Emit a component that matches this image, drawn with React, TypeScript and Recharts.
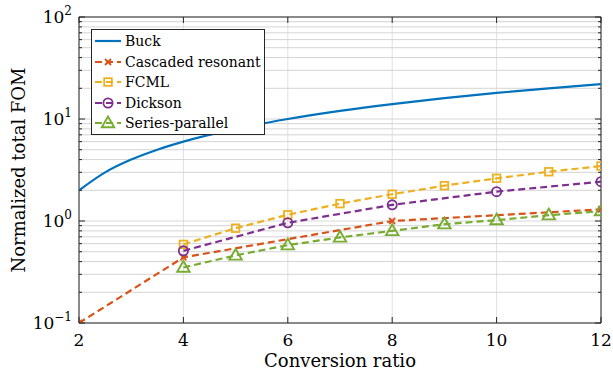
import { LineChart, Line, XAxis, YAxis, CartesianGrid, ReferenceArea, Label } from 'recharts';

const W = 613;
const H = 373;
const MARGIN = { top: 17, right: 12, left: 0, bottom: 0 };
const Y_AXIS_W = 79;
const X_AXIS_H = 50;
const PLOT_RIGHT = W - MARGIN.right;
const PLOT_TOP = MARGIN.top;
const FONT = 'DejaVu Serif';
const INK = '#262626';

// series values
const buckX = [2, 2.5, 3, 3.5, 4, 5, 6, 7, 8, 9, 10, 11, 12];
const buckY = [2, 3, 4, 5, 6, 8, 10, 12, 14, 16, 18, 20, 22];
const cascadedX = [2, 4, 8, 12];
const cascadedY = [0.1, 0.44, 1.0, 1.3];
const fcmlX = [4, 5, 6, 7, 8, 9, 10, 11, 12];
const fcmlY = [0.59, 0.85, 1.15, 1.48, 1.83, 2.22, 2.62, 3.04, 3.46];
const dicksonX = [4, 6, 8, 10, 12];
const dicksonY = [0.51, 0.96, 1.44, 1.94, 2.43];
const spX = [4, 5, 6, 7, 8, 9, 10, 11, 12];
const spY = [0.35, 0.46, 0.58, 0.69, 0.8, 0.93, 1.02, 1.14, 1.25];

const xTicks = [2, 4, 6, 8, 10, 12];
const decades = [0.1, 1, 10, 100];
const decadeLabels = ['\u22121', '0', '1', '2'];
const minorTicks = [0.2, 0.3, 0.4, 0.5, 0.6, 0.7, 0.8, 0.9, 2, 3, 4, 5, 6, 7, 8, 9, 20, 30, 40, 50, 60, 70, 80, 90];
const yTicks = [...decades, ...minorTicks].sort((a, b) => a - b);

const zip = (xs: number[], ys: number[]) => xs.map((x, i) => ({ x, y: ys[i] }));

type MarkerKind = 'none' | 'x' | 'square' | 'circle' | 'triangle';

const SERIES: { name: string; color: string; marker: MarkerKind; dashed: boolean; data: { x: number; y: number }[] }[] = [
  { name: 'Buck', color: '#0072BD', marker: 'none', dashed: false, data: zip(buckX, buckY) },
  { name: 'Cascaded resonant', color: '#D95319', marker: 'x', dashed: true, data: zip(cascadedX, cascadedY) },
  { name: 'FCML', color: '#EDB120', marker: 'square', dashed: true, data: zip(fcmlX, fcmlY) },
  { name: 'Dickson', color: '#7E2F8E', marker: 'circle', dashed: true, data: zip(dicksonX, dicksonY) },
  { name: 'Series-parallel', color: '#77AC30', marker: 'triangle', dashed: true, data: zip(spX, spY) },
];

function Marker({ kind, cx, cy, color }: { kind: MarkerKind; cx: number; cy: number; color: string }) {
  if (kind === 'x') {
    const s = 3;
    return (
      <g stroke={color} strokeWidth={1.8}>
        <line x1={cx - s} y1={cy - s} x2={cx + s} y2={cy + s} />
        <line x1={cx - s} y1={cy + s} x2={cx + s} y2={cy - s} />
      </g>
    );
  }
  if (kind === 'square') {
    return <rect x={cx - 3.8} y={cy - 3.8} width={7.6} height={7.6} fill="none" stroke={color} strokeWidth={1.8} />;
  }
  if (kind === 'circle') {
    return <circle cx={cx} cy={cy} r={4.6} fill="none" stroke={color} strokeWidth={1.8} />;
  }
  if (kind === 'triangle') {
    return (
      <polygon
        points={`${cx},${cy - 6.5} ${cx - 6.2},${cy + 4.2} ${cx + 6.2},${cy + 4.2}`}
        fill="none"
        stroke={color}
        strokeWidth={1.9}
      />
    );
  }
  return null;
}

function YTick(props: any) {
  const { x, y, payload } = props;
  const axisX = x + 6;
  const idx = decades.indexOf(payload.value);
  const major = idx >= 0;
  const len = major ? 6 : 3;
  return (
    <g>
      <line x1={axisX} y1={y} x2={axisX + len} y2={y} stroke={INK} strokeWidth={1} />
      <line x1={PLOT_RIGHT} y1={y} x2={PLOT_RIGHT - len} y2={y} stroke={INK} strokeWidth={1} />
      {major && (
        <text x={x - 1} y={y + 6} textAnchor="end" fontFamily={FONT} fontSize={17} fill="#000">
          10
          <tspan dy={-8} fontSize={12}>
            {decadeLabels[idx]}
          </tspan>
        </text>
      )}
    </g>
  );
}

function XTick(props: any) {
  const { x, y, payload } = props;
  const axisY = y - 8;
  return (
    <g>
      <line x1={x} y1={axisY} x2={x} y2={axisY - 6} stroke={INK} strokeWidth={1} />
      <line x1={x} y1={PLOT_TOP} x2={x} y2={PLOT_TOP + 6} stroke={INK} strokeWidth={1} />
      <text x={x} y={y + 15} textAnchor="middle" fontFamily={FONT} fontSize={17} fill="#000">
        {payload.value}
      </text>
    </g>
  );
}

function ChartLegend() {
  return (
    <div
      style={{
        position: 'absolute',
        left: 91,
        top: 29,
        width: 174,
        height: 106,
        boxSizing: 'border-box',
        border: `1px solid ${INK}`,
        background: '#fff',
        paddingTop: 1,
        fontFamily: FONT,
        fontSize: 14,
      }}
    >
      {SERIES.map((s) => (
        <div key={s.name} style={{ display: 'flex', alignItems: 'center', height: 20.5 }}>
          <svg width={33} height={16} style={{ flexShrink: 0 }}>
            <line
              x1={3}
              y1={8}
              x2={29}
              y2={8}
              stroke={s.color}
              strokeWidth={2.2}
              strokeDasharray={s.dashed ? '7 4' : undefined}
            />
            <Marker kind={s.marker} cx={16} cy={8} color={s.color} />
          </svg>
          <span style={{ whiteSpace: 'nowrap', lineHeight: '20px' }}>{s.name}</span>
        </div>
      ))}
    </div>
  );
}

export default function App() {
  return (
    <div style={{ position: 'absolute', left: 0, top: 0, width: W, height: H, background: '#fff' }}>
      <LineChart width={W} height={H} margin={MARGIN}>
        <CartesianGrid horizontal={false} verticalValues={xTicks} stroke="#e0e0e0" />
        <CartesianGrid vertical={false} horizontalValues={minorTicks} stroke="#d4d4d4" />
        <CartesianGrid vertical={false} horizontalValues={decades} stroke="#d8d8d8" />
        <XAxis
          dataKey="x"
          type="number"
          domain={[2, 12]}
          ticks={xTicks}
          allowDataOverflow
          height={X_AXIS_H}
          axisLine={false}
          tickLine={false}
          tickSize={0}
          tickMargin={8}
          tick={<XTick />}
        >
          <Label
            content={(p: any) => {
              const vb = p.viewBox;
              return (
                <text x={vb.x + vb.width / 2} y={H - 6} textAnchor="middle" fontFamily={FONT} fontSize={18} fill="#000">
                  Conversion ratio
                </text>
              );
            }}
          />
        </XAxis>
        <YAxis
          dataKey="y"
          scale="log"
          domain={[0.1, 100]}
          ticks={yTicks}
          interval={0}
          allowDataOverflow
          width={Y_AXIS_W}
          axisLine={false}
          tickLine={false}
          tickSize={0}
          tickMargin={6}
          tick={<YTick />}
        >
          <Label
            content={(p: any) => {
              const vb = p.viewBox;
              const cy = vb.y + vb.height / 2;
              return (
                <text
                  x={18}
                  y={cy}
                  transform={`rotate(-90, 18, ${cy})`}
                  textAnchor="middle"
                  dominantBaseline="central"
                  fontFamily={FONT}
                  fontSize={18}
                  fill="#000"
                >
                  Normalized total FOM
                </text>
              );
            }}
          />
        </YAxis>
        {SERIES.map((s) => (
          <Line
            key={s.name}
            data={s.data}
            dataKey="y"
            name={s.name}
            type={s.dashed ? 'linear' : 'monotone'}
            stroke={s.color}
            strokeWidth={2.2}
            strokeDasharray={s.dashed ? '7 4' : undefined}
            dot={(p: any) => <Marker key={`${s.name}-${p.index}`} kind={s.marker} cx={p.cx} cy={p.cy} color={s.color} />}
            activeDot={false}
            isAnimationActive={false}
          />
        ))}
        <ReferenceArea x1={2} x2={12} y1={0.1} y2={100} fill="none" fillOpacity={0} stroke={INK} strokeWidth={1} ifOverflow="visible" />
      </LineChart>
      <ChartLegend />
    </div>
  );
}
